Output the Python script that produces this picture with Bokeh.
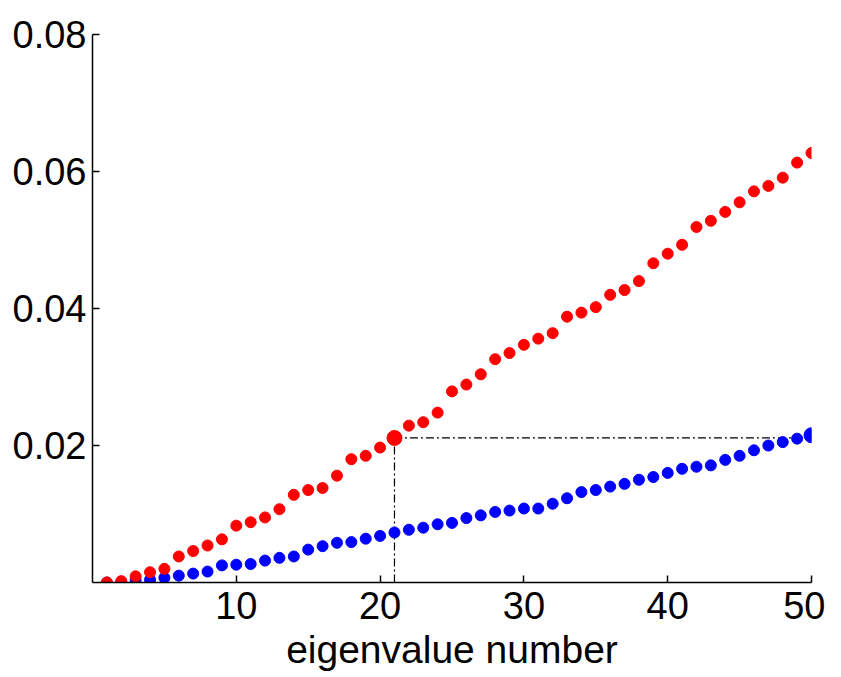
from bokeh.plotting import figure
from bokeh.models import Range1d, FixedTicker, NumeralTickFormatter
from bokeh.embed import file_html
from bokeh.resources import INLINE

# eigenvalue index
eig_num = list(range(1, 51))

# red series (upper)
red_vals = [0.0000, 0.0002, 0.0009, 0.0015, 0.0020, 0.0038, 0.0046, 0.0054, 0.0063, 0.0083,
            0.0088, 0.0095, 0.0107, 0.0128, 0.0135, 0.0138, 0.0156, 0.0180, 0.0185, 0.0197,
            0.0211, 0.0229, 0.0234, 0.0248, 0.0279, 0.0289, 0.0304, 0.0326, 0.0335, 0.0347,
            0.0356, 0.0364, 0.0388, 0.0394, 0.0402, 0.0420, 0.0427, 0.0440, 0.0466, 0.0480,
            0.0493, 0.0519, 0.0528, 0.0541, 0.0555, 0.0571, 0.0579, 0.0591, 0.0613, 0.0627]

# blue series (lower)
blue_vals = [0.0000, 0.0001, 0.0003, 0.0004, 0.0007, 0.0010, 0.0013, 0.0016, 0.0025, 0.0026,
             0.0027, 0.0032, 0.0036, 0.0038, 0.0048, 0.0053, 0.0058, 0.0059, 0.0064, 0.0068,
             0.0073, 0.0077, 0.0080, 0.0085, 0.0087, 0.0094, 0.0098, 0.0103, 0.0105, 0.0108,
             0.0108, 0.0115, 0.0123, 0.0132, 0.0135, 0.0140, 0.0144, 0.0150, 0.0154, 0.0160,
             0.0166, 0.0169, 0.0171, 0.0179, 0.0185, 0.0193, 0.0200, 0.0205, 0.0210, 0.0215]

red_marked = 21    # highlighted red point
blue_marked = 50   # highlighted blue point

x_ticks = [10, 20, 30, 40, 50]
y_ticks = [0.02, 0.04, 0.06, 0.08]

FONT = "Liberation Sans"

p = figure(frame_width=719, frame_height=548, output_backend="svg", toolbar_location=None,
           x_range=Range1d(0, 50), y_range=Range1d(0, 0.08),
           min_border_left=92, min_border_top=34, min_border_right=14, min_border_bottom=80)
p.outline_line_color = None
p.xgrid.visible = False
p.ygrid.visible = False

for ax in (p.xaxis[0], p.yaxis[0]):
    ax.axis_line_color = "black"
    ax.axis_line_width = 1.5
    ax.major_tick_line_color = "black"
    ax.major_tick_line_width = 1.5
    ax.major_tick_in = 7
    ax.major_tick_out = 0
    ax.minor_tick_line_color = None
    ax.major_label_text_font = FONT
    ax.major_label_text_font_size = "38px"
    ax.major_label_text_color = "black"

p.xaxis[0].major_label_standoff = 9
p.yaxis[0].major_label_standoff = 6
p.xaxis[0].ticker = FixedTicker(ticks=x_ticks)
p.yaxis[0].ticker = FixedTicker(ticks=y_ticks)
p.yaxis[0].formatter = NumeralTickFormatter(format="0.00")
p.xaxis[0].axis_label = "eigenvalue number"
p.xaxis[0].axis_label_text_font = FONT
p.xaxis[0].axis_label_text_font_size = "39px"
p.xaxis[0].axis_label_text_font_style = "normal"
p.xaxis[0].axis_label_text_color = "black"
p.xaxis[0].axis_label_standoff = 6

# dash-dot guide lines
rv = red_vals[red_marked - 1]
p.line([red_marked, red_marked, blue_marked], [0, rv, rv],
       line_color="black", line_width=1.2, line_dash="8 3 2 3")

p.scatter(eig_num, blue_vals, size=11, color="#0000FF")
p.scatter([blue_marked], [blue_vals[blue_marked - 1]], size=15, color="#0000FF")
p.scatter(eig_num, red_vals, size=11, color="#FF0000")
p.scatter([red_marked], [rv], size=15, color="#FF0000")

open("out.html", "w").write(file_html(p, INLINE))
